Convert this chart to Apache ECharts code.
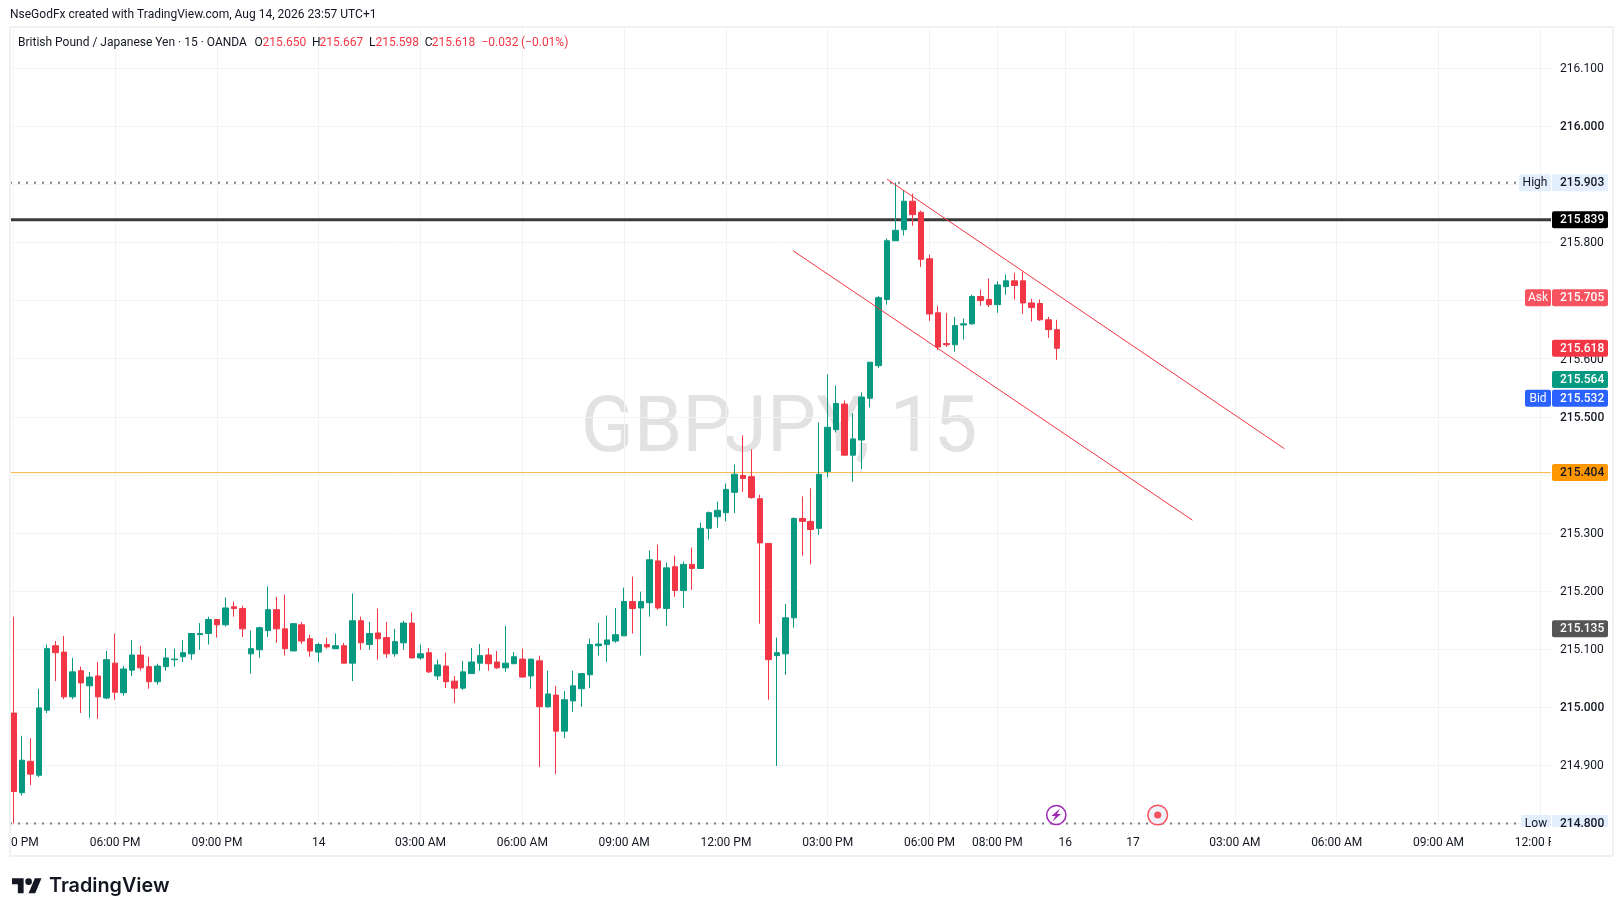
<!DOCTYPE html>
<html><head><meta charset="utf-8">
<style>html,body{margin:0;padding:0;background:#fff}#c{width:1623px;height:916px}</style>
<script src="https://cdn.jsdelivr.net/npm/echarts@6/dist/echarts.min.js"></script>
</head><body><div id="c"></div>
<script>
const opens=[214.990,214.853,214.907,214.883,214.995,215.106,215.095,215.018,215.063,215.037,
215.054,215.016,215.076,215.025,215.064,215.090,215.070,215.044,215.070,215.082,
215.087,215.092,215.125,215.127,215.151,215.142,215.173,215.170,215.092,215.099,
215.132,215.168,215.135,215.097,215.142,215.118,215.095,215.108,215.101,215.106,
215.076,215.149,215.108,215.128,215.120,215.092,215.111,215.145,215.085,215.094,
215.054,215.071,215.045,215.033,215.058,215.076,215.090,215.078,215.068,215.075,
215.083,215.054,215.080,215.001,215.021,214.959,215.011,215.032,215.056,215.106,
215.108,215.114,215.123,215.182,215.171,215.180,215.252,215.170,215.242,215.201,
215.246,215.239,215.308,215.328,215.335,215.370,215.399,215.397,215.359,215.282,
215.089,215.092,215.154,215.325,215.320,215.308,215.406,215.478,215.522,215.434,
215.460,215.532,215.588,215.702,215.803,215.822,215.871,215.852,215.772,215.679,
215.626,215.624,215.658,215.660,215.707,215.702,215.693,215.724,215.734,215.734,
215.696,215.695,215.667,215.650];
const highs=[215.156,214.951,214.947,215.032,215.108,215.114,215.123,215.085,215.070,215.061,
215.078,215.097,215.127,215.071,215.116,215.106,215.087,215.075,215.102,215.101,
215.116,215.128,215.145,215.156,215.152,215.189,215.182,215.175,215.132,215.139,
215.208,215.190,215.194,215.145,215.147,215.125,215.111,215.120,215.127,215.111,
215.196,215.156,215.147,215.170,215.147,215.135,215.149,215.163,215.108,215.102,
215.082,215.094,215.054,215.080,215.102,215.109,215.102,215.097,215.140,215.095,
215.101,215.083,215.089,215.063,215.037,215.028,215.063,215.059,215.118,215.145,
215.158,215.171,215.206,215.225,215.199,215.270,215.280,215.249,215.261,215.251,
215.275,215.318,215.337,215.354,215.385,215.418,215.468,215.444,215.366,215.282,
215.120,215.178,215.327,215.363,215.377,215.490,215.573,215.554,215.528,215.506,
215.542,215.594,215.708,215.807,215.903,215.890,215.884,215.855,215.779,215.691,
215.679,215.672,215.669,215.710,215.719,215.738,215.733,215.745,215.748,215.750,
215.703,215.702,215.672,215.667];
const lows=[214.800,214.848,214.866,214.880,214.990,215.045,215.014,215.014,214.990,214.982,
214.980,215.014,215.013,215.020,215.054,215.063,215.032,215.039,215.063,215.070,
215.078,215.082,215.099,215.108,215.120,215.139,215.156,215.121,215.058,215.085,
215.121,215.111,215.089,215.097,215.109,215.087,215.078,215.101,215.100,215.076,
215.045,215.099,215.099,215.082,215.085,215.087,215.099,215.085,215.082,215.059,
215.047,215.033,215.007,215.030,215.058,215.063,215.063,215.066,215.061,215.075,
215.052,215.032,214.897,214.999,214.885,214.947,214.992,215.001,215.033,215.089,
215.078,215.111,215.123,215.127,215.089,215.156,215.168,215.140,215.190,215.171,
215.202,215.239,215.289,215.309,215.320,215.334,215.371,215.359,215.144,215.013,
214.899,215.056,215.137,215.261,215.246,215.297,215.396,215.473,215.434,215.388,
215.410,215.516,215.584,215.693,215.803,215.812,215.829,215.758,215.665,215.615,
215.620,215.612,215.633,215.658,215.691,215.689,215.679,215.710,215.702,215.677,
215.664,215.665,215.636,215.598];
const closes=[214.855,214.909,214.885,214.999,215.101,215.094,215.018,215.061,215.042,215.052,
215.018,215.082,215.026,215.066,215.090,215.068,215.044,215.071,215.085,215.083,
215.094,215.127,215.127,215.151,215.142,215.171,215.170,215.135,215.101,215.137,
215.168,215.135,215.101,215.144,215.114,215.097,215.108,215.104,215.106,215.076,
215.149,215.111,215.127,215.118,215.092,215.113,215.145,215.085,215.092,215.061,
215.073,215.044,215.033,215.061,215.078,215.089,215.075,215.068,215.076,215.087,
215.052,215.083,215.001,215.023,214.959,215.013,215.037,215.058,215.108,215.109,
215.116,215.125,215.182,215.170,215.182,215.254,215.171,215.240,215.201,215.246,
215.239,215.308,215.335,215.339,215.375,215.401,215.394,215.361,215.283,215.082,
215.094,215.154,215.325,215.320,215.306,215.401,215.482,215.523,215.434,215.462,
215.534,215.594,215.705,215.803,215.821,215.871,215.848,215.771,215.677,215.620,
215.624,215.657,215.660,215.707,215.700,215.693,215.727,215.734,215.726,215.696,
215.688,215.667,215.650,215.618];

const tickIndex=[0,12,24,36,48,60,72,84,96,108,116,124,132,144,156,168,180];
const tickLabels=['03:00 PM','06:00 PM','09:00 PM','14','03:00 AM','06:00 AM','09:00 AM','12:00 PM','03:00 PM','06:00 PM','08:00 PM','16','17','03:00 AM','06:00 AM','09:00 AM','12:00 PM'];
const priceTicks=[214.8,214.9,215.0,215.1,215.2,215.3,215.4,215.5,215.6,215.7,215.8,215.9,216.0,216.1];
const priceLabelTicks=[214.9,215.0,215.1,215.2,215.3,215.5,215.6,215.8,216.0,216.1];
const boldTicks=[215.0,215.5,216.0];

const tagPrices=[215.903,215.839,215.705,215.618,215.564,215.532,215.404,215.135,214.800];
const tagNames=['High','','Ask','','','Bid','','','Low'];
const upperChannel=[[103,215.909],[149.85,215.445]];
const lowerChannel=[[91.9,215.786],[139,215.322]];
const highPrice=215.903, lowPrice=214.800, blackPrice=215.839, orangePrice=215.404;

const UP='#089981',DOWN='#f23645',INK='#131722',GRID='#f2f3f5';
const FONT='Roboto, "Liberation Sans", sans-serif';
const X_MIN=-0.389,X_MAX=181.26,Y_MIN=214.794,Y_MAX=216.1709,DOT_END=177.3;
const tagStyle=[
 {bg:'#e3effd',fg:INK},{bg:'#000000',fg:'#fff'},{bg:'#f7525f',fg:'#fff'},{bg:DOWN,fg:'#fff'},
 {bg:UP,fg:'#fff'},{bg:'#2962ff',fg:'#fff'},{bg:'#ff9800',fg:INK},{bg:'#555555',fg:'#fff'},{bg:'#e3effd',fg:INK}];

function hline(price,end,style){
  return {type:'line',data:[[X_MIN,price],[end,price]],symbol:'none',silent:true,lineStyle:style,z:3,clip:true};
}
function txt(x,y,s,fill,size,extra){
  return Object.assign({type:'text',x:x,y:y,z:30,silent:true,style:{text:s,fill:fill,font:(size||12)+'px '+FONT,verticalAlign:'middle',align:'left'}},extra||{});
}
const legendY=43;
const logoPts=p=>p.map(q=>[12+q[0]*0.83,875+q[1]*0.83]);
const graphics=[
 {type:'text',x:779,y:431,z:-1,silent:true,style:{text:'GBPJPY, 15',fill:'#e2e2e2',font:'400 78px '+FONT,align:'center',verticalAlign:'middle'}},
 {type:'rect',z:28,silent:true,shape:{x:0,y:829,width:10,height:26},style:{fill:'#fff'}},
 {type:'rect',z:28,silent:true,shape:{x:1551,y:829,width:60,height:26},style:{fill:'#fff'}},
 {type:'rect',z:29,silent:true,shape:{x:10,y:27,width:1603,height:829},style:{fill:'none',stroke:'#f0f1f3',lineWidth:2}},
 txt(10,15,'NseGodFx created with TradingView.com, Aug 14, 2026 23:57 UTC+1',INK,12),
 txt(18,legendY,'British Pound / Japanese Yen · 15 · OANDA',INK),
 txt(254.5,legendY,'O',INK),txt(262.5,legendY,'215.650',DOWN),
 txt(312,legendY,'H',INK),txt(319.6,legendY,'215.667',DOWN),
 txt(369,legendY,'L',INK),txt(375.4,legendY,'215.598',DOWN),
 txt(424.8,legendY,'C',INK),txt(431.7,legendY,'215.618',DOWN),
 txt(481.4,legendY,'−0.032',DOWN),txt(521,legendY,'(−0.01%)',DOWN),
 {type:'circle',z:26,silent:true,shape:{cx:1056.3,cy:815,r:9.6},style:{fill:'#fff',stroke:'#9c27b0',lineWidth:1.5}},
 {type:'polygon',z:27,silent:true,shape:{points:[[1060,808.5],[1051.5,816],[1055.5,816],[1052.5,821.5],[1061,814],[1057,814]]},style:{fill:'#9c27b0'}},
 {type:'circle',z:26,silent:true,shape:{cx:1157.7,cy:815,r:9.8},style:{fill:'#eff1f8',stroke:'#f7525f',lineWidth:1.5}},
 {type:'circle',z:27,silent:true,shape:{cx:1157.7,cy:815,r:3.6},style:{fill:'#f7525f'}},
 {type:'polygon',z:27,silent:true,shape:{points:logoPts([[14,22],[7,22],[7,11],[0,11],[0,4],[14,4]])},style:{fill:INK}},
 {type:'polygon',z:27,silent:true,shape:{points:logoPts([[28,22],[20,22],[27.5,4],[35.5,4]])},style:{fill:INK}},
 {type:'circle',z:27,silent:true,shape:{cx:12+20*0.83,cy:875+8*0.83,r:4*0.83},style:{fill:INK}},
 {type:'text',x:49,y:886,z:27,silent:true,style:{text:'TradingView',fill:INK,font:'600 19.8px Inter, Roboto, sans-serif',verticalAlign:'middle',align:'left'}}
];

const chart=echarts.init(document.getElementById('c'),null,{renderer:'canvas'});
chart.setOption({
 animation:false,backgroundColor:'#fff',
 grid:{left:10,right:72,top:27,bottom:89,containLabel:false,outerBoundsMode:'none'},
 graphic:{elements:graphics},
 xAxis:{type:'value',min:X_MIN,max:X_MAX,
  axisLine:{show:false},
  axisTick:{show:false,customValues:tickIndex},
  splitLine:{show:true,lineStyle:{color:GRID,width:1}},
  axisLabel:{customValues:tickIndex,margin:10,color:INK,fontFamily:FONT,fontSize:12,hideOverlap:false,showMinLabel:true,showMaxLabel:true,
   formatter:v=>tickLabels[tickIndex.indexOf(v)]||''}},
 yAxis:{type:'value',position:'right',scale:true,min:Y_MIN,max:Y_MAX,
  axisLine:{show:false},
  axisTick:{show:false,customValues:priceTicks},
  splitLine:{show:true,lineStyle:{color:GRID,width:1}},
  axisLabel:{customValues:priceLabelTicks,margin:9,color:INK,fontFamily:FONT,fontSize:12,align:'left',hideOverlap:false,showMinLabel:true,showMaxLabel:true,padding:[2,0,0,0],
   formatter:v=>{const s=v.toFixed(3);return boldTicks.includes(+v.toFixed(1))?'{b|'+s+'}':s;},
   rich:{b:{fontFamily:FONT,fontSize:12,fontWeight:500,color:INK}}}},
 series:[
  hline(highPrice,DOT_END,{color:'#787b86',width:2,type:[2,6]}),
  hline(lowPrice,DOT_END,{color:'#787b86',width:2,type:[2,6]}),
  {type:'candlestick',z:4,silent:true,barWidth:6,encode:{x:0,y:[1,2,3,4]},
   data:opens.map((o,i)=>[i,o,closes[i],lows[i],highs[i]]),
   itemStyle:{color:UP,color0:DOWN,borderColor:UP,borderColor0:DOWN,borderWidth:1}},
  hline(blackPrice,X_MAX,{color:'#3a3a3a',width:3}),
  hline(orangePrice,X_MAX,{color:'#ffb74d',width:1}),
  {type:'line',data:upperChannel,symbol:'none',silent:true,z:5,lineStyle:{color:DOWN,width:1}},
  {type:'line',data:lowerChannel,symbol:'none',silent:true,z:5,lineStyle:{color:DOWN,width:1}},
  {type:'custom',z:20,silent:true,encode:{x:0,y:1},clip:false,
   data:tagPrices.map((p,i)=>[X_MAX,p,i]),
   renderItem:(params,api)=>{
    const i=api.value(2),p=api.value(1),y=api.coord([X_MAX,p])[1];
    const st=tagStyle[i],name=tagNames[i],bottom=params.coordSys.y+params.coordSys.height;
    const top=y-8.5,h=Math.min(17,bottom-top);
    const kids=[{type:'rect',shape:{x:1552,y:top,width:56,height:h,r:2},style:{fill:st.bg}},
     {type:'text',x:1560,y:y+0.5,style:{text:p.toFixed(3),fill:st.fg,font:'500 12px '+FONT,verticalAlign:'middle',align:'left'}}];
    if(name){
     const w=name==='High'?32:(name==='Low'?30:26);
     kids.push({type:'rect',shape:{x:1551-w,y:top,width:w,height:h,r:2},style:{fill:st.bg}});
     kids.push({type:'text',x:1551-w/2,y:y+0.5,style:{text:name,fill:st.fg,font:'12px '+FONT,align:'center',verticalAlign:'middle'}});
    }
    return {type:'group',children:kids};
   }}
 ]
});
</script></body></html>
